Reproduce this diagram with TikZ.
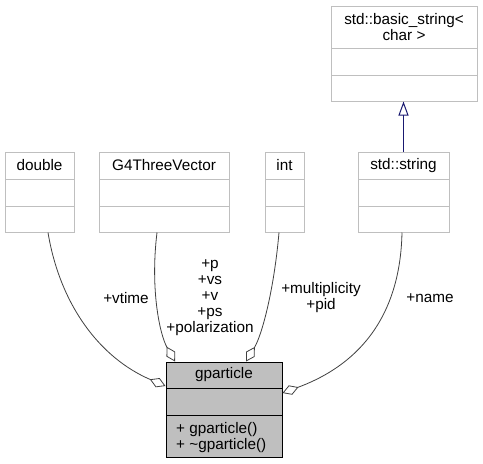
\documentclass[tikz,border=0pt]{standalone}
\usepackage{fontspec}
\setmainfont{Liberation Sans}
\usetikzlibrary{arrows.meta}
\definecolor{boxgray}{HTML}{BFBFBF}
\definecolor{edgegray}{HTML}{404040}
\definecolor{inhblue}{HTML}{191970}
\tikzset{
  x=1pt,y=-1pt,
  every node/.style={font=\fontsize{15.3}{16}\selectfont, inner sep=0pt},
  classbox/.style={draw=boxgray, fill=white, line width=1pt, minimum height=80pt},
  mainbox/.style={draw=black, fill=boxgray, line width=1pt, minimum height=95pt},
  sepline/.style={draw=boxgray, line width=1pt},
  mainsep/.style={draw=black, line width=1pt},
  assoc/.style={draw=edgegray, line width=0.8pt, -{Diamond[open,length=17pt,width=10pt,line width=0.8pt]}},
  inherit/.style={draw=inhblue, line width=1pt, -{Triangle[open,length=14pt,width=10pt,line width=1pt]}},
  lbl/.style={align=center}
}
\begin{document}
\begin{tikzpicture}
\useasboundingbox (0,0) rectangle (483,464);
% class boxes
\node[classbox, minimum width=69pt] (dbl) at (39.5,192) {};
\draw[sepline] (5,179) -- (74,179) (5,206) -- (74,206);
\node (dblt) at (39.5,165.5) {double};

\node[classbox, minimum width=130pt] (g4) at (164,192) {};
\draw[sepline] (99,179) -- (229,179) (99,206) -- (229,206);
\node (g4t) at (164,165.5) {G4ThreeVector};

\node[classbox, minimum width=39pt] (int) at (284.5,192) {};
\draw[sepline] (265,179) -- (304,179) (265,206) -- (304,206);
\node (intt) at (284.5,165.5) {int};

\node[classbox, minimum width=91pt] (str) at (403.5,192) {};
\draw[sepline] (358,179) -- (449,179) (358,206) -- (449,206);
\node (strt) at (403.5,165.5) {std::string};

\node[classbox, minimum width=146pt, minimum height=95pt] (bstr) at (404,53.5) {};
\draw[sepline] (331,48) -- (477,48) (331,75) -- (477,75);
\node[lbl] (bstrt) at (404,27.5) {std::basic\_string<\\char >};

\node[mainbox, minimum width=116pt] (gp) at (224,409.5) {};
\draw[mainsep] (166,388) -- (282,388) (166,415) -- (282,415);
\node (gpt) at (224,375) {gparticle};
\node[align=left, anchor=west] (gpm) at (176,437.5) {+ gparticle()\\+ \textasciitilde gparticle()};

% inheritance
\draw[inherit] (str.north) -- (str.north |- bstr.south);

% associations
\draw[assoc] ([xshift=8.5pt]dbl.south) .. controls (60,305) and (100,358) .. ([yshift=23.5pt]gp.west);
\draw[assoc] ([xshift=-7pt]g4.south) .. controls (150,290) and (160,335) .. ([xshift=-49pt]gp.north);
\draw[assoc] ([xshift=-5.5pt]int.south) .. controls (274,290) and (262,335) .. ([xshift=22pt]gp.north);
\draw[assoc] ([xshift=-1.5pt]str.south) .. controls (400,330) and (345,370) .. ([yshift=16.5pt]gp.east);

% labels
\node (l1) at (126,298) {+vtime};
\node[lbl] (l2) at (210,298) {+p\\+vs\\+v\\+ps\\+polarization};
\node[lbl] (l3) at (321,298) {+multiplicity\\+pid};
\node (l4) at (430,298) {+name};
\end{tikzpicture}
\end{document}
